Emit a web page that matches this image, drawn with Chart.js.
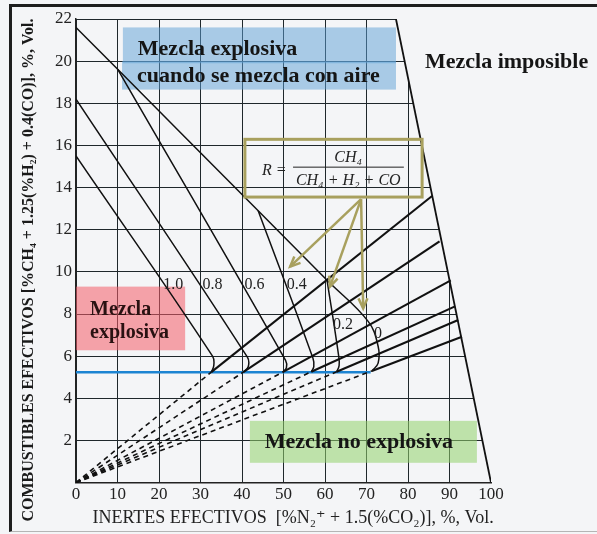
<!DOCTYPE html>
<html lang="es">
<head>
    <meta charset="UTF-8" />
    <title>Diagrama de explosividad de mezclas combustibles</title>
    <style>
        body { margin: 0; background: #f4f5f7; }
        #wrap { position: relative; width: 597px; height: 534px; overflow: hidden; }
        #frame {
            position: absolute; left: 9px; top: 4px; right: -6px; bottom: 2px;
            border-left: 3px solid #1e1e1e; border-top: 3px solid #1e1e1e;
            border-bottom: 1px solid #b5b5b5; pointer-events: none;
        }
    </style>
</head>
<body>
<div id="wrap">
    <canvas id="chart" width="597" height="534"></canvas>
    <div id="frame"></div>
</div>

<script src="https://cdn.jsdelivr.net/npm/chart.js@4.4.0/dist/chart.umd.min.js"></script>
<script>
    // valores (x: inertes efectivos %, y: combustibles efectivos %)
    const xTicks = [0, 10, 20, 30, 40, 50, 60, 70, 80, 90, 100];
    const yTicks = [2, 4, 6, 8, 10, 12, 14, 16, 18, 20, 22];
    const rLabels = ['1.0', '0.8', '0.6', '0.4', '0.2', '0'];

    // limite superior de cada R, con la curva de la nariz al final
    const upper10 = [[0, 15.5], [32.9, 6.0], [33.2, 5.55], [32.6, 5.24]];
    const upper08 = [[0, 18.2], [41.3, 5.95], [41.5, 5.5], [40.3, 5.24]];
    const upper06 = [[10.1, 19.6], [50.5, 5.8], [50.7, 5.45], [49.8, 5.24]];
    const upper04 = [[43.9, 12.9], [57.1, 5.9], [57.3, 5.5], [56.7, 5.26]];
    const upper02 = [[60.5, 9.6], [63.3, 6.0], [63.4, 5.55], [62.8, 5.26]];
    const upper00 = [[0, 21.6], [10.1, 19.6], [43.9, 12.9], [60.5, 9.6], [70.4, 7.65], [72.8, 6.47], [72.8, 5.67], [71.3, 5.3]];

    // nariz de cada curva y fin de la recta de mezcla con aire
    const noses = [[32.6, 5.24], [40.3, 5.24], [49.8, 5.24], [56.7, 5.26], [62.8, 5.26], [71.3, 5.3]];
    const airEnds = [[85.8, 13.6], [87.6, 11.45], [90.3, 9.6], [91.2, 8.35], [92.1, 7.72], [93.0, 6.92]];

    const lowerLimit = [[0, 5.24], [71.0, 5.24]];
    const rightLimit = [[77.1, 22], [100, 0]];
    const arrowStart = [68.7, 13.45];
    const arrowEnds = [[51.6, 10.25], [61.2, 9.3], [69.2, 8.27]];

    const bg = '#f4f5f7';
    const gridColor = '#1f272b';
    const olive = '#a8a05e';
    const serif = "'Liberation Serif', 'DejaVu Serif', serif";

    const pts = a => a.map(([x, y]) => ({ x, y }));
    const line = (data, extra) => Object.assign({
        data: pts(data), showLine: true, borderColor: '#111', borderWidth: 1.4,
        pointRadius: 0, fill: false, tension: 0, order: 2
    }, extra);

    const datasets = [];
    // tapa la cuadricula a la derecha del limite (zona de mezcla imposible)
    datasets.push(line(rightLimit, { borderWidth: 0, borderColor: 'rgba(0,0,0,0)', backgroundColor: bg, fill: 'end', order: 9 }));
    datasets.push(line(rightLimit, { borderWidth: 1.8 }));
    datasets.push(line(lowerLimit, { borderColor: '#1c84d2', borderWidth: 2.5, order: 3 }));

    [upper10, upper08, upper06, upper04, upper02, upper00].forEach(u => {
        datasets.push(line(u, { tension: 0.4, borderWidth: 1.5 }));
    });
    noses.forEach((n, i) => {
        datasets.push(line([[0, 0], n], { borderDash: [5, 4], borderWidth: 1.6 }));
        datasets.push(line([n, airEnds[i]], { borderWidth: 2.1 }));
    });
    arrowEnds.forEach(a => {
        datasets.push(line([arrowStart, a], { borderColor: olive, borderWidth: 2.5, order: 1, arrow: true }));
    });

    function arrowHead(ctx, x0, y0, x1, y1) {
        const ang = Math.atan2(y1 - y0, x1 - x0);
        const len = 11, spread = 0.42;
        ctx.beginPath();
        ctx.moveTo(x1 - len * Math.cos(ang - spread), y1 - len * Math.sin(ang - spread));
        ctx.lineTo(x1, y1);
        ctx.lineTo(x1 - len * Math.cos(ang + spread), y1 - len * Math.sin(ang + spread));
        ctx.stroke();
    }

    const notes = {
        id: 'notes',
        beforeDatasetsDraw(chart) {
            const { ctx, scales: { x, y } } = chart;
            const box = (x0, y0, x1, y1, color) => {
                const px = x.getPixelForValue(x0), py = y.getPixelForValue(y0);
                ctx.fillStyle = color;
                ctx.fillRect(px, py, x.getPixelForValue(x1) - px, y.getPixelForValue(y1) - py);
            };
            ctx.save();
            box(11.3, 21.6, 77.1, 19.9, 'rgba(91,160,213,0.5)');
            box(11.1, 20.0, 77.1, 18.65, 'rgba(91,160,213,0.5)');
            box(0, 9.3, 26.3, 6.28, 'rgba(244,91,104,0.55)');
            box(41.9, 2.93, 96.6, 0.94, 'rgba(145,209,107,0.55)');
            ctx.restore();
        },
        afterDatasetsDraw(chart) {
            const { ctx, scales: { x, y } } = chart;
            const X = v => x.getPixelForValue(v), Y = v => y.getPixelForValue(v);
            const text = (s, vx, vy, font, color, align) => {
                ctx.font = font;
                ctx.fillStyle = color;
                ctx.textAlign = align || 'left';
                ctx.textBaseline = 'alphabetic';
                ctx.fillText(s, X(vx), Y(vy));
            };
            ctx.save();

            // cuadro de la formula de R
            ctx.strokeStyle = olive;
            ctx.lineWidth = 3;
            ctx.strokeRect(X(40.7), Y(16.29), X(83.4) - X(40.7), Y(13.55) - Y(16.29));

            // puntas de flecha
            ctx.lineWidth = 2.5;
            chart.data.datasets.forEach((ds, i) => {
                if (!ds.arrow) return;
                const p = chart.getDatasetMeta(i).data;
                arrowHead(ctx, p[0].x, p[0].y, p[1].x, p[1].y);
            });

            const bold22 = 'bold 22px ' + serif;
            text('Mezcla explosiva', 14.9, 20.3, bold22, '#151515');
            text('cuando se mezcla con aire', 14.7, 19.03, bold22, '#151515');
            text('Mezcla imposible', 84.1, 19.69, bold22, '#151515');
            text('Mezcla no explosiva', 45.5, 1.65, bold22, '#151515');
            text('Mezcla', 3.4, 7.93, 'bold 20px ' + serif, '#2a1212');
            text('explosiva', 3.4, 6.85, 'bold 20px ' + serif, '#2a1212');

            // etiquetas de R
            const lab = '16px ' + serif;
            const labPos = [[21.0, 9.2], [30.5, 9.2], [40.6, 9.2], [50.8, 9.2], [61.9, 7.3], [71.8, 6.85]];
            rLabels.forEach((r, i) => text(r, labPos[i][0], labPos[i][1], lab, '#222'));

            // formula
            const it = 'italic 16px ' + serif;
            text('R =', 44.8, 14.59, it, '#222');
            text('CH\u2084', 65.6, 15.22, it, '#222', 'center');
            text('CH\u2084 + H\u2082 + CO', 65.6, 14.12, it, '#222', 'center');
            ctx.strokeStyle = '#222';
            ctx.lineWidth = 1;
            ctx.beginPath();
            ctx.moveTo(X(52.3), Y(14.97));
            ctx.lineTo(X(79.0), Y(14.97));
            ctx.stroke();

            // titulo del eje x
            text('INERTES EFECTIVOS  [%N\u2082\u207A + 1.5(%CO\u2082)], %, Vol.', 52.3, -1.9, '18px ' + serif, '#222', 'center');
            ctx.restore();
        },
        afterDraw(chart) {
            const ctx = chart.ctx;
            ctx.save();
            ctx.translate(33, chart.height / 2 + 3);
            ctx.rotate(-Math.PI / 2);
            ctx.font = 'bold 16px ' + serif;
            ctx.fillStyle = '#1a1a1a';
            ctx.textAlign = 'center';
            ctx.textBaseline = 'alphabetic';
            ctx.fillText('COMBUSTIBLES EFECTIVOS [%CH\u2084 + 1.25(%H\u2082) + 0.4(CO)], %, Vol.', 0, 0);
            ctx.restore();
        }
    };

    new Chart(document.getElementById('chart'), {
        type: 'scatter',
        data: { datasets },
        options: {
            responsive: false,
            animation: false,
            devicePixelRatio: 1,
            layout: { padding: { left: 51, right: 106, top: 19, bottom: 27 } },
            plugins: { legend: { display: false }, tooltip: { enabled: false } },
            elements: { point: { radius: 0 } },
            scales: {
                x: {
                    type: 'linear', min: xTicks[0], max: xTicks[xTicks.length - 1],
                    ticks: { stepSize: 10, padding: 2, color: '#222', font: { family: serif, size: 17 } },
                    grid: {
                        color: c => (c.tick && c.tick.value === 100) ? 'rgba(0,0,0,0)' : gridColor,
                        drawTicks: false, lineWidth: 1
                    },
                    border: { color: '#222', width: 1.5 }
                },
                y: {
                    type: 'linear', min: 0, max: yTicks[yTicks.length - 1],
                    ticks: {
                        stepSize: 2, padding: 4, color: '#222', font: { family: serif, size: 17 },
                        callback: v => (yTicks.includes(v) ? v : '')
                    },
                    grid: { color: gridColor, drawTicks: false, lineWidth: 1 },
                    border: { color: '#222', width: 1.5 }
                }
            }
        },
        plugins: [notes]
    });
</script>
</body>
</html>
